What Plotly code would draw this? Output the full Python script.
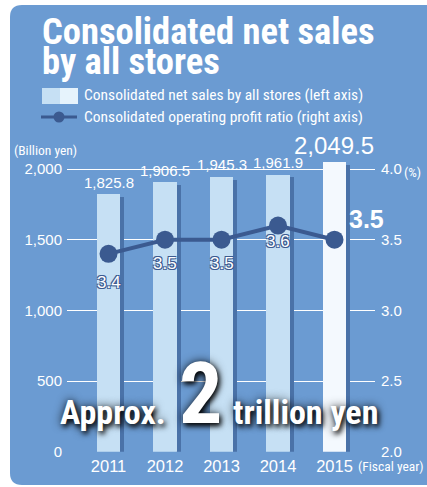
import plotly.graph_objects as go

# ---- data ----
years = [2011, 2012, 2013, 2014, 2015]
year_labels = ["2011", "2012", "2013", "2014", "2015"]
net_sales = [1825.8, 1906.5, 1945.3, 1961.9, 2049.5]
sales_labels = ["1,825.8", "1,906.5", "1,945.3", "1,961.9", "2,049.5"]
profit_ratio = [3.4, 3.5, 3.5, 3.6, 3.5]
ratio_labels = ["3.4", "3.5", "3.5", "3.6", "3.5"]
left_ticks = [0, 500, 1000, 1500, 2000]
left_ticktext = ["0", "500", "1,000", "1,500", "2,000"]
right_ticks = [2.0, 2.5, 3.0, 3.5, 4.0]
right_ticktext = ["2.0", "2.5", "3.0", "3.5", "4.0"]

# ---- styling ----
W, H = 427, 487
PANEL = "#6b9bd2"
BAR = "#c6e0f4"
BAR_HI = "#f4f9fe"
BAR_SHADE = "#4a72a8"
LINE = "#3b5a90"
WHITE = "#ffffff"
NUM_FONT = "Liberation Sans, Arial, sans-serif"
COND_FONT = "Roboto Condensed, Liberation Sans, sans-serif"


def px(x):
    return x / W


def py(y):
    return 1 - y / H


# rounded panel behind everything
def rounded_panel(x0, y0, x1, y1, r):
    rx, ry = r / W, r / H
    X0, X1 = px(x0), px(x1)
    Y0, Y1 = py(y0), py(y1)  # Y0 top, Y1 bottom
    return (f"M {X0+rx},{Y0} L {X1-rx},{Y0} Q {X1},{Y0} {X1},{Y0-ry} "
            f"L {X1},{Y1+ry} Q {X1},{Y1} {X1-rx},{Y1} "
            f"L {X0+rx},{Y1} Q {X0},{Y1} {X0},{Y1+ry} "
            f"L {X0},{Y0-ry} Q {X0},{Y0} {X0+rx},{Y0} Z")


bar_colors = [BAR] * (len(years) - 1) + [BAR_HI]

fig = go.Figure()

# side shading of each bar
fig.add_trace(go.Bar(
    x=years, y=[v - 20 for v in net_sales], width=0.075, offset=0.2,
    marker=dict(color=BAR_SHADE, line=dict(width=0)),
    hoverinfo="skip", showlegend=False, cliponaxis=False,
))
# net sales bars
fig.add_trace(go.Bar(
    x=years, y=net_sales, width=0.41,
    marker=dict(color=bar_colors, line=dict(width=0)),
    showlegend=False, cliponaxis=False,
))
# operating profit ratio line
fig.add_trace(go.Scatter(
    x=years, y=profit_ratio, yaxis="y2", mode="lines+markers",
    line=dict(color=LINE, width=4),
    marker=dict(size=18, color=LINE),
    showlegend=False, cliponaxis=False,
))

annotations = []

# sales value labels above bars
sales_shift = [11, 12, 12, 12, 17]
for i, (x, v, t) in enumerate(zip(years, net_sales, sales_labels)):
    big = i == len(years) - 1
    annotations.append(dict(
        x=x, y=v, xref="x", yref="y", text=t, showarrow=False,
        yanchor="middle", yshift=sales_shift[i],
        font=dict(family=NUM_FONT, size=24 if big else 15, color=WHITE),
    ))

# ratio labels
outline = ", ".join(f"{a}px {b}px 0 {LINE}" for a in (-1, 1) for b in (-1, 1))
ratio_shift = [(0, -29), (0, -24), (0, -24), (0, -16), (32, 21)]
for i, (x, v, t) in enumerate(zip(years, profit_ratio, ratio_labels)):
    big = i == len(years) - 1
    dx, dy = ratio_shift[i]
    annotations.append(dict(
        x=x, y=v, xref="x", yref="y2", text=t, showarrow=False,
        yanchor="middle", xshift=dx, yshift=dy,
        font=dict(family=NUM_FONT, size=25 if big else 17, color=WHITE,
                  weight="bold" if big else "normal",
                  shadow="none" if big else outline),
    ))

# title
for text, yc in (("Consolidated net sales", 31.5), ("by all stores", 61.5)):
    annotations.append(dict(
        x=px(40), y=py(yc), xref="paper", yref="paper", text=f"<b>{text}</b>",
        showarrow=False, xanchor="left", yanchor="middle",
        font=dict(family=COND_FONT, size=36.5, color=WHITE),
    ))

# legend
for text, yc in (("Consolidated net sales by all stores (left axis)", 95.5),
                 ("Consolidated operating profit ratio (right axis)", 117)):
    annotations.append(dict(
        x=px(82), y=py(yc), xref="paper", yref="paper", text=text,
        showarrow=False, xanchor="left", yanchor="middle",
        font=dict(family=COND_FONT, size=15.5, color=WHITE),
    ))

# unit labels
annotations += [
    dict(x=px(12), y=py(150), xref="paper", yref="paper", text="(Billion yen)",
         showarrow=False, xanchor="left", yanchor="middle",
         font=dict(family=COND_FONT, size=13.5, color=WHITE)),
    dict(x=px(402), y=py(172), xref="paper", yref="paper", text="(%)",
         showarrow=False, xanchor="left", yanchor="middle",
         font=dict(family=COND_FONT, size=13.5, color=WHITE)),
    dict(x=px(356), y=py(466), xref="paper", yref="paper", text="(Fiscal year)",
         showarrow=False, xanchor="left", yanchor="middle",
         font=dict(family=COND_FONT, size=13.5, color=WHITE)),
]

# headline over the bars
glow = "2px 3px 5px rgba(0,0,0,0.9), 0px 0px 10px rgba(0,0,0,0.8)"
annotations += [
    dict(x=px(58), y=py(412), xref="paper", yref="paper", text="<b>Approx.</b>",
         showarrow=False, xanchor="left", yanchor="middle",
         font=dict(family=COND_FONT, size=34, color=WHITE, shadow=glow)),
    dict(x=px(200), y=py(393.5), xref="paper", yref="paper", text="<b>2</b>",
         showarrow=False, xanchor="center", yanchor="middle",
         font=dict(family=COND_FONT, size=86, color=WHITE, shadow=glow)),
    dict(x=px(231), y=py(412), xref="paper", yref="paper", text="<b>trillion yen</b>",
         showarrow=False, xanchor="left", yanchor="middle",
         font=dict(family=COND_FONT, size=34, color=WHITE, shadow=glow)),
]

shapes = [
    dict(type="path", xref="paper", yref="paper", layer="below",
         path=rounded_panel(10, 5, 445, 485, 12),
         fillcolor=PANEL, line=dict(width=0)),
    # legend swatches
    dict(type="rect", xref="paper", yref="paper", layer="above",
         x0=px(42), x1=px(60), y0=py(104), y1=py(88),
         fillcolor=BAR, line=dict(width=0)),
    dict(type="rect", xref="paper", yref="paper", layer="above",
         x0=px(60), x1=px(78), y0=py(104), y1=py(88),
         fillcolor="#e6f3fc", line=dict(width=0)),
    dict(type="line", xref="paper", yref="paper", layer="above",
         x0=px(41), x1=px(77), y0=py(117), y1=py(117),
         line=dict(color=LINE, width=3)),
    dict(type="circle", xref="paper", yref="paper", layer="above",
         x0=px(53.5), x1=px(64.5), y0=py(122.5), y1=py(111.5),
         fillcolor=LINE, line=dict(width=0)),
]

y_top_px = 154.9
y_dom = [py(451.7), py(y_top_px)]

fig.update_layout(
    width=W, height=H,
    margin=dict(l=0, r=0, t=0, b=0),
    paper_bgcolor=WHITE, plot_bgcolor="rgba(0,0,0,0)",
    barmode="overlay", bargap=0,
    showlegend=False,
    xaxis=dict(
        domain=[px(67), px(375)], range=[2010.265, 2015.717],
        tickvals=years, ticktext=year_labels, showgrid=False, zeroline=False,
        showline=False, ticks="", automargin=False, ticklabelstandoff=3,
        tickfont=dict(family=NUM_FONT, size=16.5, color=WHITE),
    ),
    yaxis=dict(
        domain=y_dom, range=[0, 2100],
        tickvals=left_ticks, ticktext=left_ticktext,
        showgrid=True, gridcolor=WHITE, gridwidth=1.3, zeroline=False,
        ticks="", automargin=False, ticklabelstandoff=4,
        tickfont=dict(family=NUM_FONT, size=15, color=WHITE),
    ),
    yaxis2=dict(
        domain=y_dom, range=[2.0, 4.1], overlaying="y", side="right",
        tickvals=right_ticks, ticktext=right_ticktext,
        showgrid=False, zeroline=False, ticks="", automargin=False,
        ticklabelstandoff=5,
        tickfont=dict(family=NUM_FONT, size=15, color=WHITE),
    ),
    annotations=annotations,
    shapes=shapes,
)

fig.write_html("out.html")
